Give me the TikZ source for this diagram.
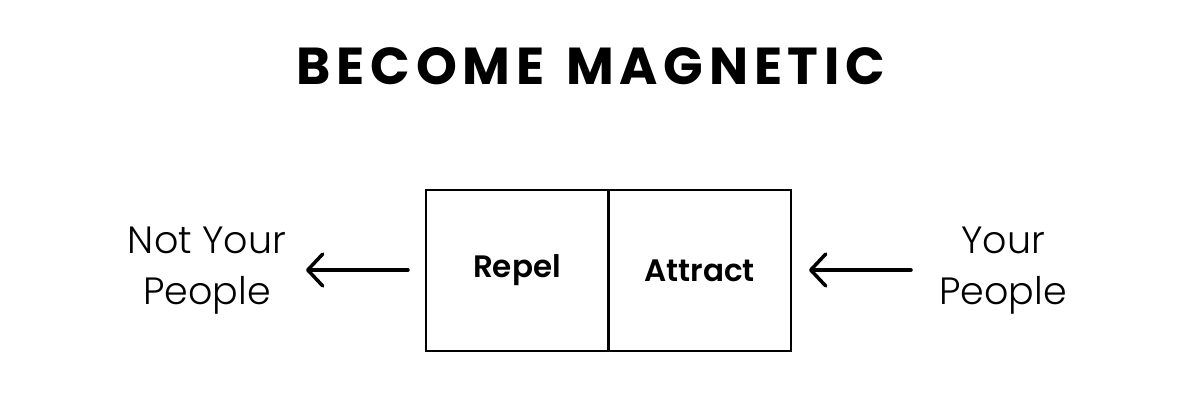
\documentclass[tikz,border=0pt]{standalone}
\usepackage{fontspec}
\setmainfont{Poppins}
\newfontfamily\titlefont[LetterSpace=11]{Poppins Bold}
\newfontfamily\labfont{Poppins SemiBold}
\newfontfamily\sidefont{Poppins Light}
\usetikzlibrary{arrows.meta}
\begin{document}
\begin{tikzpicture}[x=1pt,y=-1pt,
  cell/.style={draw=black,line width=2pt,minimum width=182pt,minimum height=161pt,inner sep=0pt,font=\labfont\fontsize{31}{36}\selectfont},
  side/.style={align=center,font=\sidefont\fontsize{38}{51}\selectfont,inner sep=0pt},
  arr/.style={line width=3.5pt,line cap=round,-{Straight Barb[length=15pt,width=32pt,line cap=round,line join=round]}}]
\useasboundingbox[fill=white] (0,0) rectangle (1200,415);
\node[font=\titlefont\fontsize{52}{60}\selectfont,inner sep=0pt] (title) at (591,66) {BECOME\hspace{22pt}MAGNETIC};
\node[cell] (repel) at (517,270.5) {Repel};
\node[cell] (attract) at (699.5,270.5) {Attract};
\node[side] (notyours) at (207,271) {Not Your\\People};
\node[side] (yours) at (1003,271) {Your\\People};
\coordinate (l1) at (408,270);
\coordinate (l2) at (306,270);
\coordinate (r1) at (911,270);
\coordinate (r2) at (809,270);
\draw[arr] (l1) -- (l2);
\draw[arr] (r1) -- (r2);
\end{tikzpicture}
\end{document}
